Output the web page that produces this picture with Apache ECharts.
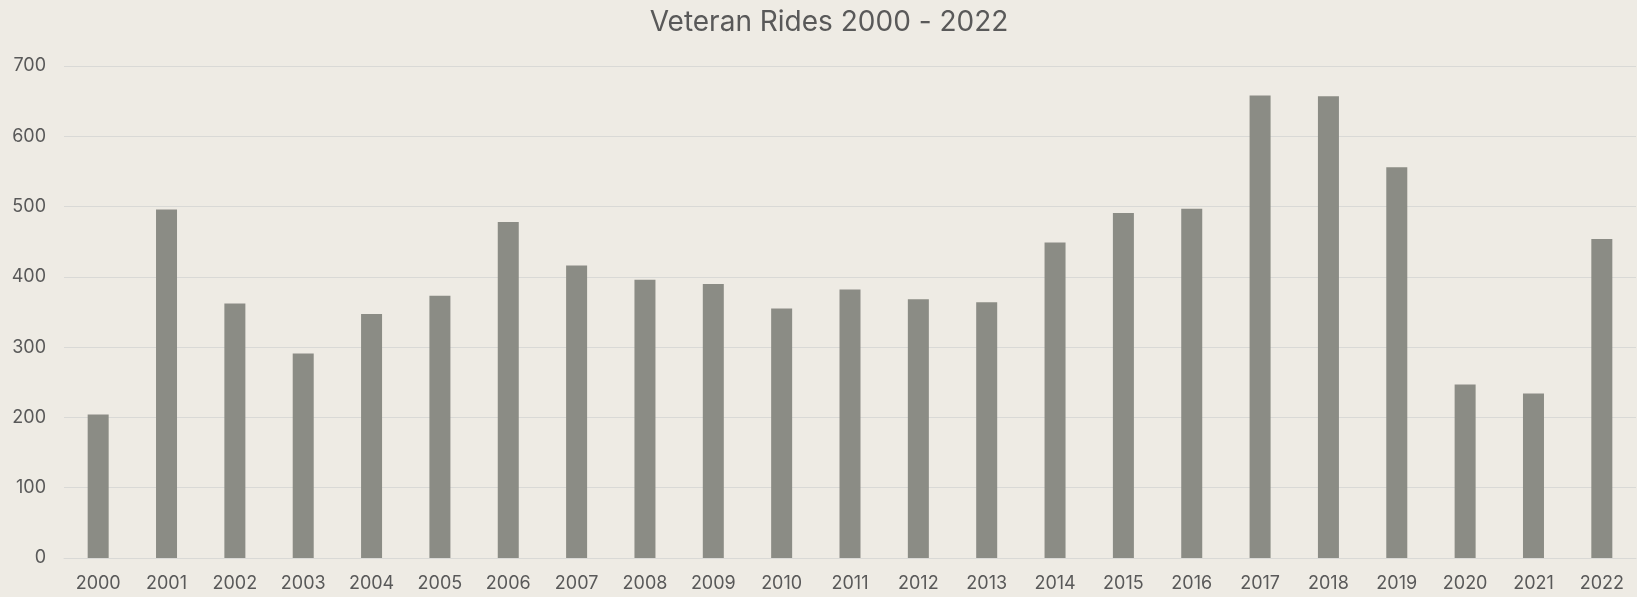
<!DOCTYPE html>
<html>
<head>
<meta charset="utf-8">
<script src="https://cdn.jsdelivr.net/npm/echarts@6/dist/echarts.min.js"></script>
<style>
  html, body { margin: 0; padding: 0; background: #eeebe4; }
  #chart { width: 1637px; height: 597px; }
</style>
</head>
<body>
<div id="chart"></div>
<script>
const years = ['2000', '2001', '2002', '2003', '2004', '2005', '2006', '2007', '2008', '2009', '2010', '2011',
   '2012', '2013', '2014', '2015', '2016', '2017', '2018', '2019', '2020', '2021', '2022'];
const rides = [204, 496, 362, 291, 347, 373, 478, 416, 396, 390, 355, 382,
   368, 364, 449, 491, 497, 658, 657, 556, 247, 234, 454];
const yTicks = [0, 100, 200, 300, 400, 500, 600, 700];

const textColor = '#595959';
const font = 'Inter, "Liberation Sans", sans-serif';

var chart = echarts.init(document.getElementById('chart'), null, { renderer: 'canvas' });

chart.setOption({
   backgroundColor: '#eeebe4',
   animation: false,
   title: {
      text: 'Veteran Rides 2000 - 2022',
      left: 824,
      top: 4,
      textAlign: 'center',
      textStyle: {
         color: textColor,
         fontFamily: font,
         fontSize: 28,
         fontWeight: 'normal'
      }
   },
   grid: {
      left: 64,
      right: 1,
      top: 66,
      bottom: 39
   },
   xAxis: {
      type: 'category',
      data: years,
      axisTick: { show: false },
      axisLine: { lineStyle: { color: '#d9d9d6', width: 1 } },
      axisLabel: {
         color: textColor,
         fontFamily: font,
         fontSize: 18,
         margin: 17
      }
   },
   yAxis: {
      type: 'value',
      min: yTicks[0],
      max: yTicks[yTicks.length - 1],
      interval: 100,
      axisLine: { show: false },
      axisTick: { show: false },
      splitLine: { lineStyle: { color: '#d9d9d6', width: 1 } },
      axisLabel: {
         color: textColor,
         fontFamily: font,
         fontSize: 18,
         margin: 18
      }
   },
   series: [
      {
         type: 'bar',
         data: rides,
         barWidth: 21,
         itemStyle: { color: '#8b8c85' }
      }
   ]
});
</script>
</body>
</html>
